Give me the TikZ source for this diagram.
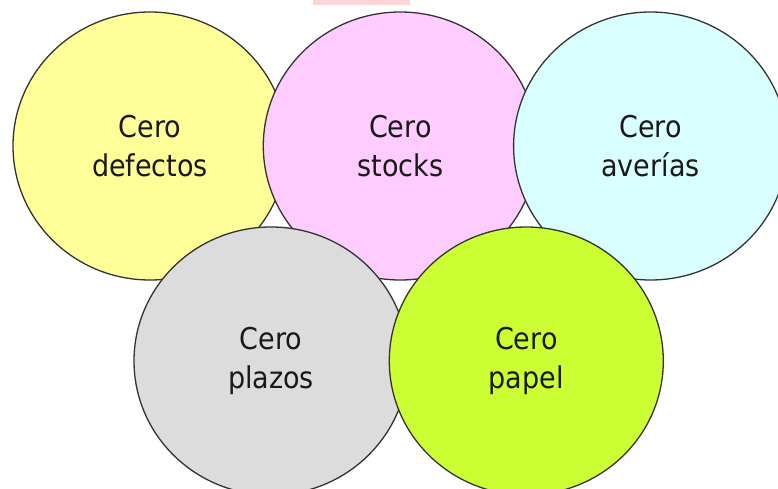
\documentclass[tikz,border=0pt]{standalone}
\usepackage{fontspec}
\setmainfont{DejaVu Sans Condensed}
\usetikzlibrary{positioning,shapes.geometric}

\definecolor{defcol}{HTML}{FFFF99}
\definecolor{stockcol}{HTML}{FFCCFF}
\definecolor{avercol}{HTML}{D9FFFF}
\definecolor{plazocol}{HTML}{DCDCDC}
\definecolor{papelcol}{HTML}{CCFF33}
\definecolor{markcol}{HTML}{FCD6D6}

\begin{document}
\begin{tikzpicture}[x=1pt,y=-1pt,node distance=-25pt,every node/.style={ellipse,draw=black!80,line width=1.3pt,align=center,minimum width=274pt,minimum height=268pt,text=black!90,font=\fontsize{30}{39}\selectfont}]
      \useasboundingbox (0,0) rectangle (778,489);
      \fill[markcol] (313,0) rectangle (410,5);
      \node[fill=defcol] (def) at (150,146) {Cero\\defectos};
      \node[fill=stockcol,right=of def] (stk) {Cero\\stocks};
      \node[fill=avercol,right=of stk] (ave) {Cero\\aver\'ias};
      \node[fill=plazocol] (plz) at (271,361) {Cero\\plazos};
      \node[fill=papelcol,right=-20pt of plz] (pap) {Cero\\papel};
    \end{tikzpicture}
\end{document}
